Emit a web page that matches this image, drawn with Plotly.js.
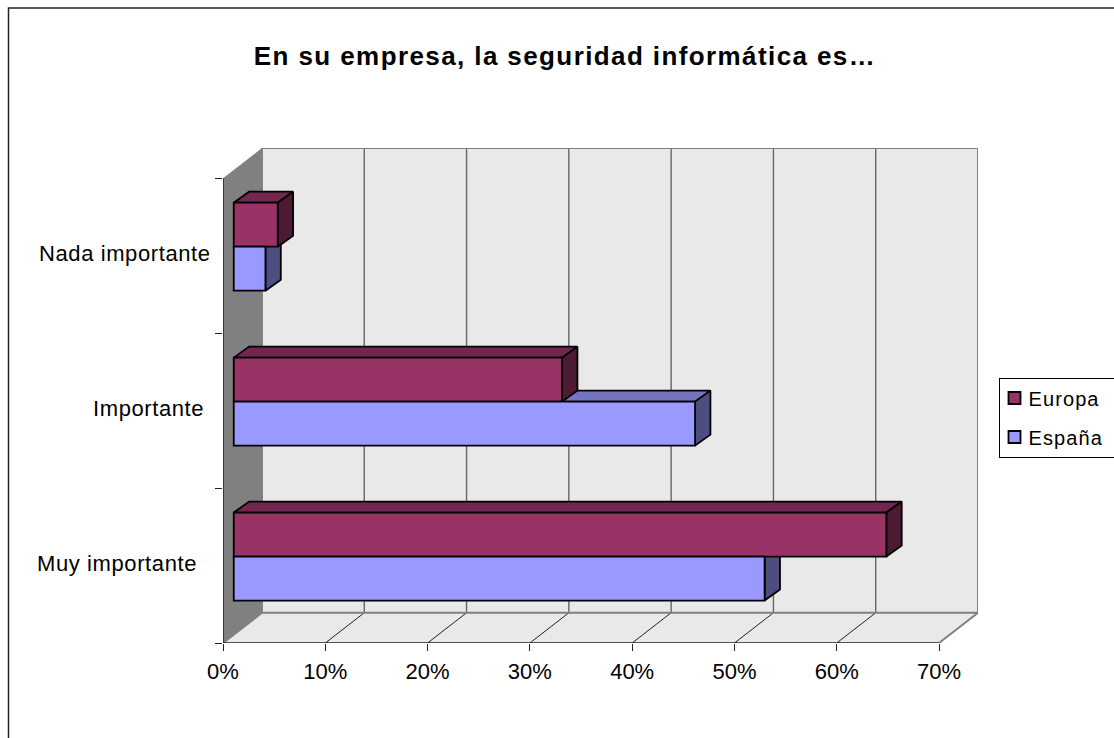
<!DOCTYPE html>
<html>
<head>
<meta charset="utf-8">
<script src="https://cdn.plot.ly/plotly-3.0.1.min.js"></script>
<style>
html,body{margin:0;padding:0;background:#fff;overflow:hidden}
.gtitle{letter-spacing:1.4px}
.annotation-text{letter-spacing:.6px}
.legendtext{letter-spacing:1.1px;transform:translateX(-6px)}
</style>
</head>
<body>
<div id="chart" style="width:1114px;height:738px"></div>
<script>
const categories = ['Muy importante', 'Importante', 'Nada importante'];
const europa = [63.8, 32.1, 4.3];
const espana = [51.9, 45.1, 3.1];
const xTicks = [0, 10, 20, 30, 40, 50, 60, 70];
const xTickLabels = ['0%', '10%', '20%', '30%', '40%', '50%', '60%', '70%'];
const catTicks = [0, 1, 2, 3];

// Oblique projection of the 3-D look, in axis units
const wallDx = 3.81, wallDy = 0.195;     // floor depth
const barBase = 1.05, barLift = 0.058;   // where the bars' front faces sit in the depth
const barDx = 1.5, barDy = 0.071;        // bar depth
const barH = 0.284;
const xMax = 70 + wallDx, yMax = 3 + wallDy;
const edge = {color: '#000', width: 1.8};
const FONT = 'Liberation Sans, Arial, sans-serif';

function faces(values, lowOff) {
  const top = {x: [], y: []}, side = {x: [], y: []};
  values.forEach((v, i) => {
    const y0 = i + 0.5 + barLift + lowOff, y1 = y0 + barH, e = barBase + v;
    top.x.push(barBase, barBase + barDx, e + barDx, e, barBase, null);
    top.y.push(y1, y1 + barDy, y1 + barDy, y1, y1, null);
    side.x.push(e, e + barDx, e + barDx, e, e, null);
    side.y.push(y0, y0 + barDy, y1 + barDy, y1, y0, null);
  });
  return {top, side};
}
function poly(p, color) {
  return {type: 'scatter', mode: 'lines', x: p.x, y: p.y, fill: 'toself', fillcolor: color,
          line: edge, showlegend: false, hoverinfo: 'skip'};
}
const grid = {x: [], y: []}, diag = {x: [], y: []};
xTicks.slice(1, -1).forEach(t => {
  grid.x.push(t + wallDx, t + wallDx, null); grid.y.push(wallDy, yMax, null);
  diag.x.push(t, t + wallDx, null); diag.y.push(0, wallDy, null);
});
function lines(p, color, width) {
  return {type: 'scatter', mode: 'lines', x: p.x, y: p.y, line: {color, width},
          showlegend: false, hoverinfo: 'skip', cliponaxis: false};
}
const es = faces(espana, -barH), eu = faces(europa, 0);

const traces = [
  lines(grid, '#666666', 1.4),
  lines(diag, '#222222', 1),
  lines({x: [0, wallDx, null, 70, xMax, xMax, wallDx, wallDx, xMax],
         y: [0, wallDy, null, 0, wallDy, yMax, yMax, wallDy, wallDy]}, '#808080', 2),
  lines({x: [0, 0, null, 0, 70], y: [3, 0, null, 0, 0]}, '#222222', 1.5),
  poly(es.top, '#7373bf'), poly(es.side, '#4d4d80'),
  poly(eu.top, '#732650'), poly(eu.side, '#4d1a33'),
  {type: 'bar', orientation: 'h', name: 'Europa', legendgroup: 'a', xaxis: 'x2', yaxis: 'y2',
   y: categories.map((c, i) => i + 0.5 + barLift), x: europa, base: barBase,
   width: barH, offset: 0, marker: {color: '#993366', line: edge}},
  {type: 'bar', orientation: 'h', name: 'España', legendgroup: 'b', xaxis: 'x2', yaxis: 'y2',
   y: categories.map((c, i) => i + 0.5 + barLift), x: espana, base: barBase,
   width: barH, offset: -barH, marker: {color: '#9999ff', line: edge}}
];

const labelShift = [-24, -17, -10];
const layout = {
  width: 1114, height: 738, autosize: false,
  margin: {l: 223, r: 136, t: 148, b: 95, pad: 0},
  paper_bgcolor: '#fff', plot_bgcolor: 'rgba(0,0,0,0)',
  font: {family: FONT, color: '#000', size: 22},
  barmode: 'overlay', showlegend: true,
  title: {text: '<b>En su empresa, la seguridad informática es…</b>', x: 565 / 1114, xref: 'container',
          xanchor: 'center', y: 1 - 56 / 738, yref: 'container', yanchor: 'middle',
          font: {family: FONT, size: 26, color: '#000'}},
  xaxis: {range: [0, xMax], tickmode: 'array', tickvals: xTicks, ticktext: xTickLabels,
          ticks: 'outside', ticklen: 7, tickwidth: 1, tickcolor: '#222', showgrid: false,
          zeroline: false, showline: false, ticklabelstandoff: 2, tickfont: {size: 22, family: FONT}},
  yaxis: {range: [0, yMax], tickmode: 'array', tickvals: catTicks, ticks: 'outside', ticklen: 7,
          tickwidth: 1, tickcolor: '#222', showticklabels: false, showgrid: false,
          zeroline: false, showline: false},
  xaxis2: {range: [0, xMax], overlaying: 'x', visible: false},
  yaxis2: {range: [0, yMax], overlaying: 'y', visible: false},
  legend: {x: 998.5 / 1114, xref: 'container', xanchor: 'left', y: 1 - 377.5 / 738, yref: 'container', yanchor: 'top',
           bgcolor: '#fff', bordercolor: '#000', borderwidth: 1, traceorder: 'grouped', tracegroupgap: 10,
           indentation: -5, font: {size: 20, family: FONT, color: '#000'}, itemclick: false, itemdoubleclick: false},
  shapes: [
    {type: 'rect', xref: 'x', yref: 'y', x0: wallDx, x1: xMax, y0: wallDy, y1: yMax,
     fillcolor: '#e9e9e9', line: {width: 0}, layer: 'below'},
    {type: 'path', xref: 'x', yref: 'y', layer: 'below', fillcolor: '#e9e9e9', line: {width: 0},
     path: `M0,0L${wallDx},${wallDy}L${xMax},${wallDy}L70,0Z`},
    {type: 'path', xref: 'x', yref: 'y', layer: 'below', fillcolor: '#808080', line: {width: 0},
     path: `M0,0L${wallDx},${wallDy}L${wallDx},${yMax}L0,3Z`},
    {type: 'path', xref: 'paper', yref: 'paper', layer: 'below', line: {color: '#222', width: 1.5},
     path: `M${(8.5 - 223) / 755},${-(738 - 643) / 495}L${(8.5 - 223) / 755},${(643 - 8) / 495}L${(1114 - 223) / 755},${(643 - 8) / 495}`}
  ],
  annotations: categories.map((c, i) => ({
    text: c, xref: 'x', yref: 'y', x: 0, y: i + 0.5, xanchor: 'right', yanchor: 'middle',
    xshift: labelShift[i], yshift: 2, showarrow: false, font: {size: 22, family: FONT, color: '#000'}
  }))
};
Plotly.newPlot('chart', traces, layout, {displayModeBar: false, staticPlot: true});
</script>
</body>
</html>
